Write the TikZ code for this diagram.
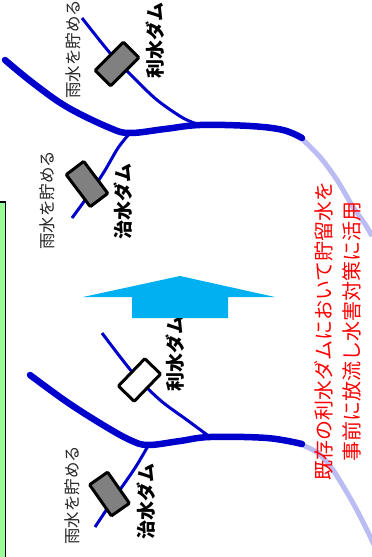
\documentclass[tikz,border=0pt]{standalone}
\usepackage{fontspec}
\newfontfamily\jpfont{Noto Sans CJK JP}
\definecolor{riverblue}{RGB}{0,0,205}
\definecolor{paleriver}{RGB}{188,188,245}
\definecolor{arrowblue}{RGB}{0,176,240}
\definecolor{boxgreen}{RGB}{153,255,153}
\definecolor{damgray}{RGB}{128,128,128}
\tikzset{
  river/.style={riverblue,line width=6.5pt,line cap=round},
  branch/.style={riverblue,line width=3pt},
  oldriver/.style={paleriver,line width=5pt},
  dam/.style={draw=black,line width=3pt,fill=damgray,rounded corners=1pt,
    minimum width=40pt,minimum height=22pt,inner sep=0pt},
  rain/.style={font=\jpfont\fontsize{16.5}{16.5}\selectfont,text=black!85,rotate=90,inner sep=0pt},
  damname/.style={font=\jpfont\bfseries\fontsize{19}{19}\selectfont,rotate=90,inner sep=0pt},
}
\begin{document}
\begin{tikzpicture}[x=1pt,y=-1pt]
\clip (0,0) rectangle (372,557);
\draw[black,line width=1.5pt,fill=boxgreen] (-10,202) rectangle (5.5,570);
% after: the dam releases water in advance
\draw[oldriver] plot[smooth] coordinates {(300,137) (320,157) (337,180) (353,207) (365,224) (372,236)};
\draw[river] plot[smooth,tension=0.6] coordinates {(5,60) (33,83) (67,107) (110,128) (130,133) (165,129) (200,125) (250,126) (283,130) (302,138)};
\draw[branch] plot[smooth] coordinates {(82,18) (110,53) (133,77) (157,100) (183,118) (200,125)};
\draw[branch] plot[smooth] coordinates {(72,218) (88,196) (104,172) (118,148) (130,133)};
\node[dam,name=riusui1,rotate=45] at (117,64){};
\node[dam,name=chisui1,rotate=-53] at (87,184){};
\node[rain,name=ame1] at (73,49){雨水を貯める};
\node[rain,name=ame2] at (47,200){雨水を貯める};
\node[damname,name=lbl1] at (155,40){利水ダム};
\node[damname,name=lbl2] at (123,201){治水ダム};
% before: only the flood control dam stores rain
\draw[oldriver] plot[smooth] coordinates {(300,444) (318,453) (333,470) (353,503) (367,530) (374,545)};
\draw[river] plot[smooth,tension=0.6] coordinates {(30,375) (67,402) (103,425) (130,440) (148,445) (180,441) (210,437) (267,438) (302,444)};
\draw[branch] plot[smooth] coordinates {(102,333) (133,373) (160,400) (187,420) (210,437)};
\draw[branch] plot[smooth] coordinates {(95,527) (115,497) (135,468) (148,446)};
\node[dam,name=riusui2,fill=white,minimum width=38pt,rotate=46] at (139.5,380){};
\node[dam,name=chisui2,minimum width=38pt,rotate=-55] at (109.5,494){};
\node[rain,name=ame3] at (72,495){雨水を貯める};
\node[damname,name=lbl3] at (175,353){利水ダム};
\node[damname,name=lbl4] at (146,501){治水ダム};
\fill[arrowblue] (180,276) -- (275,297) -- (228,297) -- (228,318) -- (132,318) -- (132,297) -- (83,297) -- cycle;
\node[name=note,rotate=90,red,align=center,inner sep=0pt,
  font=\jpfont\fontsize{20}{28}\selectfont] at (338,331)
  {既存の利水ダムにおいて貯留水を\\事前に放流し水害対策に活用};
\end{tikzpicture}
\end{document}
